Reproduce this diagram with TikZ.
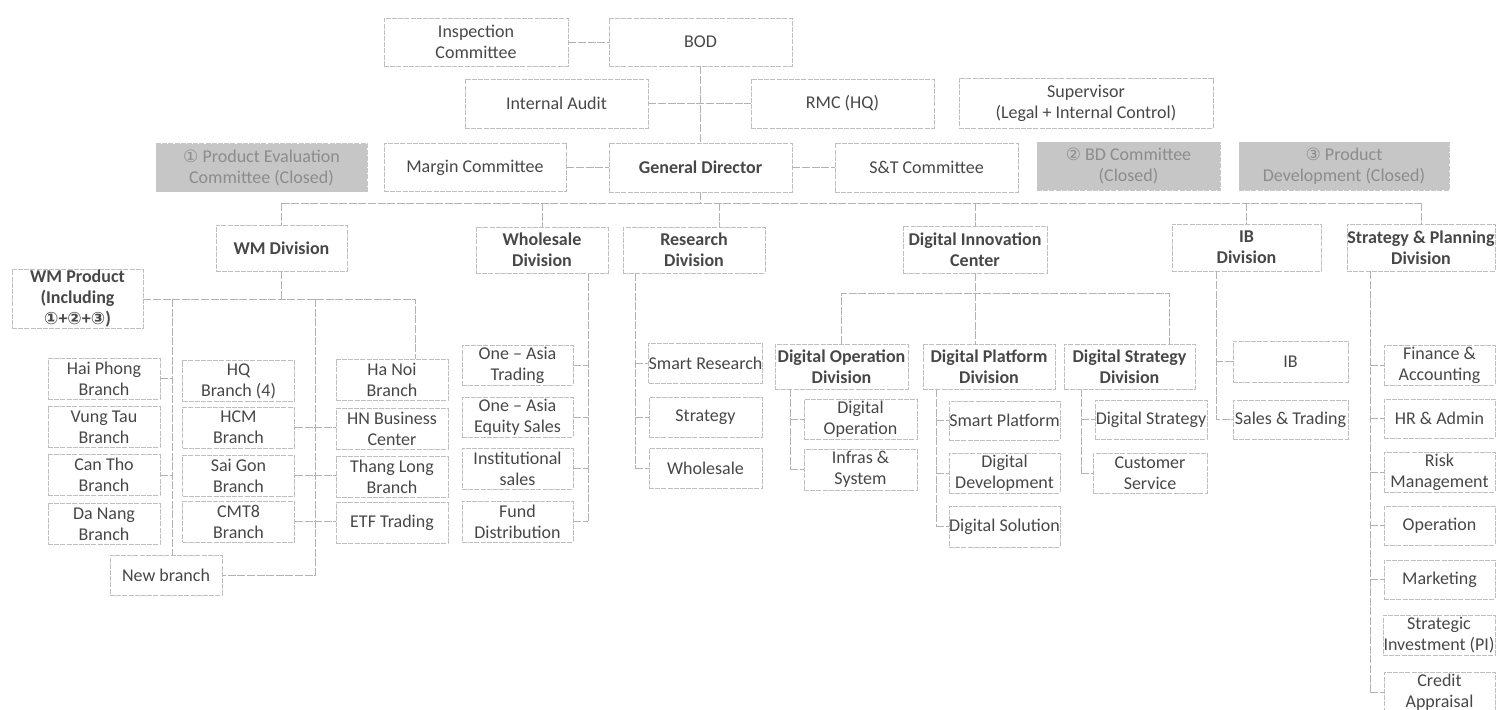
\documentclass[tikz,border=0pt]{standalone}
\usepackage{fontspec}
\setmainfont{Carlito}
\newfontfamily\circfont{DejaVu Sans}
\usetikzlibrary{positioning,calc}
\newcommand{\boxfont}{\fontsize{9}{10.5}\selectfont}
\newcommand{\circnum}[1]{{\circfont\fontsize{8.5}{10.5}\selectfont#1}}
\tikzset{
  box/.style={draw=gray!50, line width=0.45pt, dash pattern=on 2.5pt off 0.6pt,
    text=black!72, font=\boxfont, align=center, inner sep=0pt},
  headbox/.style={box, font=\boxfont\bfseries},
  closedbox/.style={box, fill=gray!45, draw=gray!45, text=black!45},
  link/.style={draw=gray!60, line width=0.5pt, dash pattern=on 4pt off 0.8pt},
  wh/.style 2 args={minimum width=#1*0.5pt, minimum height=#2*0.5pt},
  branch/.style={box, wh={112}{41}},
}

\begin{document}
\begin{tikzpicture}[x=0.5pt,y=-0.5pt]
  \useasboundingbox (0,0) rectangle (1496,709);

  % board level
  \node[box, wh={184}{48}] (insp) at (476,42) {Inspection\\Committee};
  \node[box, wh={183}{48}] (bod) at (700.5,42) {BOD};
  \node[box, wh={183}{49}] (audit) at (556.5,103.5) {Internal Audit};
  \node[box, wh={183}{49}] (rmc) at (842.5,103.5) {RMC (HQ)};
  \node[box, wh={254}{50}] (superv) at (1086,103) {Supervisor\\(Legal + Internal Control)};
  \node[closedbox, wh={211}{48}] (pec) at (261.5,167.5) {\circnum{①} Product Evaluation\\Committee (Closed)};
  \node[box, wh={182}{48}] (margin) at (475,167.5) {Margin Committee};
  \node[headbox, wh={183}{49}] (gd) at (700.5,167.5) {General Director};
  \node[box, wh={183}{49}] (stc) at (926.5,167.5) {S\&T Committee};
  \node[closedbox, wh={183}{48}] (bdc) at (1128.5,166) {\circnum{②} BD Committee\\(Closed)};
  \node[closedbox, wh={210}{48}] (pdc) at (1344,166) {\circnum{③} Product\\Development (Closed)};

  \draw[link] (insp) -- (bod);
  \draw[link] (bod) -- (gd);
  \draw[link] (audit) -- (rmc);
  \draw[link] (margin) -- (gd);
  \draw[link] (gd) -- (stc);

  % divisions
  \node[headbox, wh={131}{46}] (wm) at (281.5,248) {WM Division};
  \node[headbox, wh={132}{46}] (whs) at (542,250) {Wholesale\\Division};
  \node[headbox, wh={142}{46}] (res) at (694,250) {Research\\Division};
  \node[headbox, wh={144}{47}] (dic) at (975,249.5) {Digital Innovation\\Center};
  \node[headbox, wh={149}{47}] (ib) at (1246.5,247.5) {IB\\Division};
  \node[headbox, wh={148}{47}] (snp) at (1421,247.5) {Strategy \& Planning\\Division};

  \coordinate (bus) at (0,203);
  \draw[link] (gd) -- (gd |- bus);
  \draw[link] (wm.north |- bus) -- (snp.north |- bus);
  \foreach \n in {wm,whs,dic,ib,snp}
    \draw[link] (\n.north |- bus) -- (\n.north);
  \draw[link] ([xshift=12.5pt]res.north |- bus) -- ([xshift=12.5pt]res.north);

  % WM division
  \node[headbox, wh={131}{59}] (wmp) at (77.5,298.5) {WM Product\\(Including\\\circnum{①}+\circnum{②}+\circnum{③})};
  \node[branch] (hp) at (104,378.5) {Hai Phong\\Branch};
  \node[branch] (vt) at (104,427) {Vung Tau\\Branch};
  \node[branch] (ct) at (104,475) {Can Tho\\Branch};
  \node[branch] (dn) at (104,524) {Da Nang\\Branch};
  \node[branch] (hq) at (238.5,381) {HQ\\Branch (4)};
  \node[branch] (hcm) at (238.5,427.5) {HCM\\Branch};
  \node[branch] (sg) at (238.5,475.5) {Sai Gon\\Branch};
  \node[branch] (cmt) at (238.5,521.5) {CMT8\\Branch};
  \node[branch] (hn) at (392,380) {Ha Noi\\Branch};
  \node[branch] (hnbc) at (392,428.5) {HN Business\\Center};
  \node[branch] (tl) at (392,477) {Thang Long\\Branch};
  \node[branch] (etf) at (392,522.5) {ETF Trading};
  \node[branch, wh={112}{40}] (newb) at (166,575) {New branch};

  \coordinate (wmA) at (172,299);
  \coordinate (wmB) at (315,299);
  \coordinate (wmC) at (415,299);
  \draw[link] (wm) -- (wm |- wmA);
  \draw[link] (wmp.east |- wmA) -- (wmC) -- (wmC |- hn.north);
  \draw[link] (wmA) -- (wmA |- newb.north);
  \draw[link] (wmB) -- (wmB |- newb.east) -- (newb.east);
  \draw[link] (hp.east) -- (hp.east -| wmA);
  \draw[link] (ct.east) -- (ct.east -| wmA);
  \draw[link] (hcm.east) -- (hcm.east -| hnbc.west);
  \draw[link] (sg.east) -- (sg.east -| tl.west);
  \draw[link] (cmt.east) -- (cmt.east -| etf.west);

  % wholesale division
  \node[box, wh={111}{40}] (oat) at (517.5,365) {One – Asia\\Trading};
  \node[box, wh={111}{40}] (oae) at (517.5,417) {One – Asia\\Equity Sales};
  \node[box, wh={111}{41}] (ins) at (517.5,468.5) {Institutional\\sales};
  \node[box, wh={111}{41}] (fd) at (517.5,521.5) {Fund\\Distribution};
  \coordinate (whsT) at ([xshift=23pt]whs.south);
  \draw[link] (whsT) -- (whsT |- fd.east);
  \foreach \n in {oat,oae,ins,fd}
    \draw[link] (\n.east) -- (\n.east -| whsT);

  % research division
  \node[box, wh={113}{40}] (sr) at (705.5,363) {Smart Research};
  \node[box, wh={113}{40}] (st) at (705.5,417) {Strategy};
  \node[box, wh={113}{40}] (wsl) at (705.5,468.5) {Wholesale};
  \coordinate (resT) at ([xshift=-29.5pt]res.south);
  \draw[link] (resT) -- (resT |- wsl.west);
  \foreach \n in {sr,st,wsl}
    \draw[link] (\n.west -| resT) -- (\n.west);

  % digital innovation center
  \node[headbox, wh={133}{45}] (dod) at (841.5,366.5) {Digital Operation\\Division};
  \node[headbox, wh={132}{45}] (dpd) at (989,366.5) {Digital Platform\\Division};
  \node[headbox, wh={131}{45}] (dsd) at (1129.5,366.5) {Digital Strategy\\Division};
  \coordinate (dicJ) at (975,293);
  \coordinate (dsdJ) at (1169,293);
  \draw[link] (dic) -- (dicJ);
  \draw[link] (dod.north) -- (dod.north |- dicJ) -- (dsdJ) -- (dsdJ |- dsd.north);
  \draw[link] (dicJ) -- (dicJ |- dpd.north);

  \node[box, wh={113}{40}] (dop) at (860.5,419) {Digital\\Operation};
  \node[box, wh={113}{41}] (inf) at (860.5,469.5) {Infras \&\\System};
  \coordinate (dodT) at ([xshift=-25.75pt]dod.south);
  \draw[link] (dodT) -- (dodT |- inf.west);
  \foreach \n in {dop,inf}
    \draw[link] (\n.west -| dodT) -- (\n.west);

  \node[box, wh={111}{39}] (sp) at (1004.5,420.5) {Smart Platform};
  \node[box, wh={111}{40}] (dd) at (1004.5,473) {Digital\\Development};
  \node[box, wh={111}{41}] (dso) at (1004.5,526.5) {Digital Solution};
  \coordinate (dpdT) at ([xshift=-26.5pt]dpd.south);
  \draw[link] (dpdT) -- (dpdT |- dso.west);
  \foreach \n in {sp,dd,dso}
    \draw[link] (\n.west -| dpdT) -- (\n.west);

  \node[box, wh={112}{39}] (dst) at (1151,419.5) {Digital Strategy};
  \node[box, wh={114}{40}] (cs) at (1150,473) {Customer\\Service};
  \coordinate (dsdT) at ([xshift=-24.25pt]dsd.south);
  \draw[link] (dsdT) -- (dsdT |- cs.west);
  \foreach \n in {dst,cs}
    \draw[link] (\n.west -| dsdT) -- (\n.west);

  % IB division
  \node[box, wh={115}{41}] (ibx) at (1290.5,361.5) {IB};
  \node[box, wh={115}{39}] (stt) at (1290.5,419.5) {Sales \& Trading};
  \coordinate (ibT) at ([xshift=-15.25pt]ib.south);
  \draw[link] (ibT) -- (ibT |- stt.west) -- (stt.west);
  \draw[link] (ibx.west) -- (ibx.west -| ibT);

  % strategy & planning division
  \node[box, wh={111}{40}] (fa) at (1439.5,365) {Finance \&\\Accounting};
  \node[box, wh={111}{39}] (hr) at (1439.5,418.5) {HR \& Admin};
  \node[box, wh={111}{40}] (rm) at (1439.5,472) {Risk\\Management};
  \node[box, wh={111}{39}] (op) at (1439.5,525.5) {Operation};
  \node[box, wh={111}{39}] (mk) at (1439.5,579.5) {Marketing};
  \node[box, wh={112}{40}] (si) at (1439,635) {Strategic\\Investment (PI)};
  \node[box, wh={111}{40}] (ca) at (1439.5,692) {Credit\\Appraisal};
  \coordinate (snpT) at ([xshift=-25.5pt]snp.south);
  \draw[link] (snpT) -- (snpT |- ca.west);
  \foreach \n in {fa,hr,rm,op,mk,ca}
    \draw[link] (\n.west -| snpT) -- (\n.west);
\end{tikzpicture}
\end{document}
